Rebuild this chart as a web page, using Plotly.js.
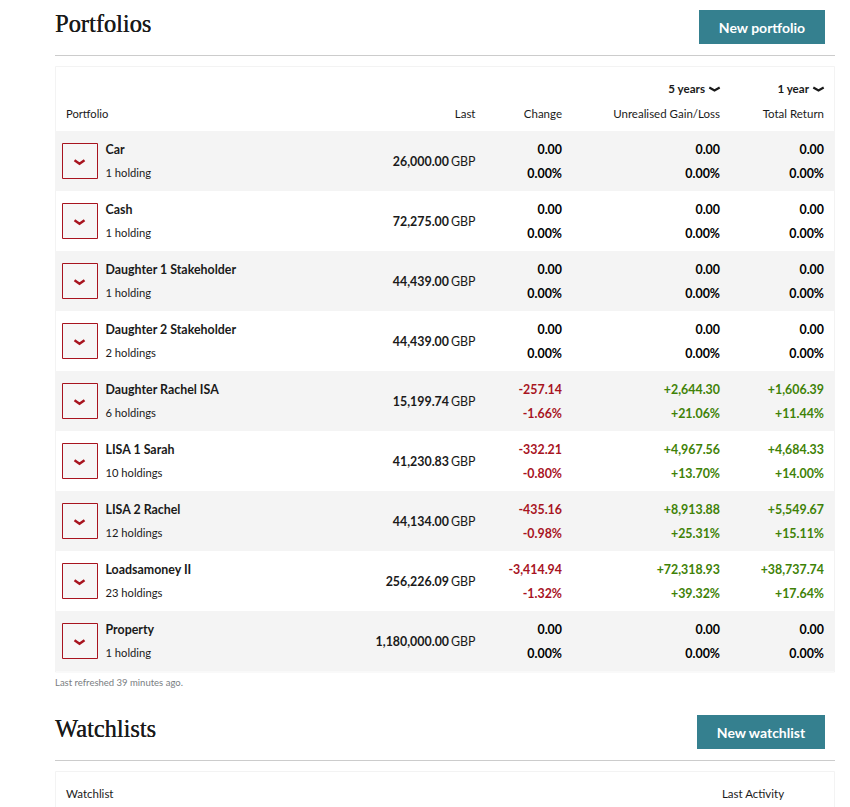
<!DOCTYPE html>
<html><head><meta charset="utf-8">
<script src="https://cdn.plot.ly/plotly-3.0.1.min.js"></script>
<style>html,body{margin:0;padding:0;background:#fff;overflow:hidden}#c{width:850px;height:807px}</style>
</head><body><div id="c"></div>
<script>
const portfolios=["Car","Cash","Daughter 1 Stakeholder","Daughter 2 Stakeholder","Daughter Rachel ISA","LISA 1 Sarah","LISA 2 Rachel","Loadsamoney II","Property"];
const holdings=["1 holding","1 holding","1 holding","2 holdings","6 holdings","10 holdings","12 holdings","23 holdings","1 holding"];
const last=["26,000.00","72,275.00","44,439.00","44,439.00","15,199.74","41,230.83","44,134.00","256,226.09","1,180,000.00"];
const change=["0.00","0.00","0.00","0.00","-257.14","-332.21","-435.16","-3,414.94","0.00"];
const changePct=["0.00%","0.00%","0.00%","0.00%","-1.66%","-0.80%","-0.98%","-1.32%","0.00%"];
const gain=["0.00","0.00","0.00","0.00","+2,644.30","+4,967.56","+8,913.88","+72,318.93","0.00"];
const gainPct=["0.00%","0.00%","0.00%","0.00%","+21.06%","+13.70%","+25.31%","+39.32%","0.00%"];
const totalReturn=["0.00","0.00","0.00","0.00","+1,606.39","+4,684.33","+5,549.67","+38,737.74","0.00"];
const totalReturnPct=["0.00%","0.00%","0.00%","0.00%","+11.44%","+14.00%","+15.11%","+17.64%","0.00%"];

const SANS="Lato, 'Open Sans', sans-serif", SERIF="'Liberation Serif', serif";
const INK="#1a1a1a", RED="#a8141f", GREEN="#3f8207", TEAL="#35808f";
const rowTop=i=>131+60*i;
const tint=s=>s[0]==="-"?RED:s[0]==="+"?GREEN:"#000";
function col(xs,ys,texts,pos,size,weight,color,family,shadow){
  const f={family:family||SANS,size:size,weight:weight,color:color};
  if(shadow) f.shadow=shadow;
  return {type:"scatter",mode:"text",x:xs,y:ys,text:texts,textposition:pos,cliponaxis:false,hoverinfo:"skip",showlegend:false,
    marker:{size:0,opacity:0},textfont:f};
}
const idx=portfolios.map((_,i)=>i);
const at=x=>idx.map(()=>x);
const ys=d=>idx.map(i=>rowTop(i)+d);
const L="middle right", R="middle left";
const traces=[
  col(at(105.5),ys(19.5),portfolios,L,12.4,700,INK),
  col(at(105.5),ys(43.5),holdings,L,11.2,400,INK),
  col(at(449),ys(31.5),last,R,12.4,700,INK),
  col(at(475.5),ys(31.5),idx.map(()=>"GBP"),R,12.4,400,INK),
];
[[562,change,changePct],[720,gain,gainPct],[824,totalReturn,totalReturnPct]].forEach(([x,a,b])=>{
  traces.push(col(at(x),ys(19.5),a,R,12.4,700,a.map(tint)));
  traces.push(col(at(x),ys(43.5),b,R,12.4,700,b.map(tint)));
});
traces.push(col([66],[115],["Portfolio"],L,11.2,400,INK));
traces.push(col([475.5,562,720,824],[115,115,115,115],["Last","Change","Unrealised Gain/Loss","Total Return"],R,11.5,400,INK));
traces.push(col([705,809],[90,90],["5 years","1 year"],R,11.6,700,INK));
traces.push(col([55,55],[25.5,730.5],["Portfolios","Watchlists"],L,24.4,400,"#1a1a1a",SERIF,"0.35px 0 0 #1a1a1a"));
traces.push(col([762,761],[29,734],["New portfolio","New watchlist"],"middle center",14,700,"#fff"));
traces.push(col([55],[684],["Last refreshed 39 minutes ago."],L,9.5,400,"#7a7e82"));
traces.push(col([66,753],[795,795],["Watchlist","Last Activity"],["middle right","middle center"],11.5,400,INK));

const rect=(x0,y0,x1,y1,fill,line,w)=>({type:"rect",layer:"below",xref:"x",yref:"y",x0,y0,x1,y1,fillcolor:fill,line:{color:line||fill,width:line?(w||1):0}});
const hline=(y)=>({type:"line",layer:"below",xref:"x",yref:"y",x0:55,x1:835,y0:y,y1:y,line:{color:"#cccccc",width:1}});
const chev=(cx,cy,hw,h,color,w)=>({type:"path",xref:"x",yref:"y",path:`M${cx-hw},${cy-h/2} L${cx},${cy+h/2} L${cx+hw},${cy-h/2}`,line:{color,width:w},fillcolor:"rgba(0,0,0,0)"});
const shapes=[
  rect(55.5,66.5,834.5,672,"#ffffff","#f3f3f3"),
  rect(55.5,771.5,834.5,830,"#ffffff","#f3f3f3"),
  hline(55.5),hline(760.5),
  rect(699,10,825,44,TEAL),
  rect(697,715,825,749,TEAL),
];
idx.forEach(i=>{
  if(i%2===0) shapes.push(rect(55,rowTop(i),835,rowTop(i)+60,"#f4f4f4"));
  shapes.push(rect(62.5,rowTop(i)+12.5,97.5,rowTop(i)+47.5,"#f6f6f6",RED,1));
  shapes.push(chev(79.5,rowTop(i)+31,5,3.5,RED,2.4));
});
shapes.push(chev(714.5,89,5.2,3,INK,2.2));
shapes.push(chev(818.5,89,5.2,3,INK,2.2));

const layout={width:850,height:807,margin:{l:0,r:0,t:0,b:0},paper_bgcolor:"#fff",plot_bgcolor:"#fff",showlegend:false,
  xaxis:{range:[0,850],visible:false,fixedrange:true},yaxis:{range:[807,0],visible:false,fixedrange:true},shapes};
Plotly.newPlot("c",traces,layout,{displayModeBar:false,staticPlot:true});
</script></body></html>
